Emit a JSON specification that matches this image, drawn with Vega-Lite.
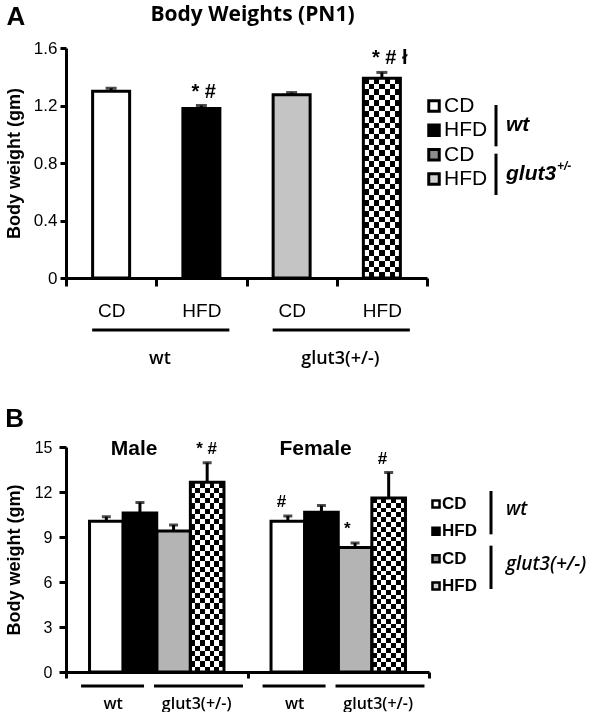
{
"$schema":"https://vega.github.io/schema/vega-lite/v6.json",
"padding":{"left":5,"top":4,"right":0,"bottom":0},
"background":"white",
"datasets":{
 "barsA":[
  {"key":"wt|CD","mean":1.30,"upper":1.32,"sig":""},
  {"key":"wt|HFD","mean":1.18,"upper":1.20,"sig":"* #"},
  {"key":"glut|CD","mean":1.275,"upper":1.29,"sig":""},
  {"key":"glut|HFD","mean":1.39,"upper":1.43,"sig":"* # ł"}
 ],
 "genoA":[
  {"from":"wt|CD","to":"wt|HFD","label":"wt"},
  {"from":"glut|CD","to":"glut|HFD","label":"glut3(+/-)"}
 ],
 "barsB":[
  {"sex":"Male","key":"wt|CD","mean":10.05,"upper":10.35,"sig":""},
  {"sex":"Male","key":"wt|HFD","mean":10.6,"upper":11.3,"sig":""},
  {"sex":"Male","key":"glut|CD","mean":9.4,"upper":9.8,"sig":""},
  {"sex":"Male","key":"glut|HFD","mean":12.65,"upper":13.95,"sig":"* #"},
  {"sex":"Female","key":"wt|CD","mean":10.05,"upper":10.4,"sig":"#"},
  {"sex":"Female","key":"wt|HFD","mean":10.65,"upper":11.1,"sig":""},
  {"sex":"Female","key":"glut|CD","mean":8.3,"upper":8.6,"sig":"*"},
  {"sex":"Female","key":"glut|HFD","mean":11.6,"upper":13.3,"sig":"#"}
 ],
 "sexB":[{"sex":"Male"},{"sex":"Female"}],
 "genoB":[
  {"sex":"Male","geno":"wt","label":"wt"},
  {"sex":"Male","geno":"glut","label":"glut3(+/-)"},
  {"sex":"Female","geno":"wt","label":"wt"},
  {"sex":"Female","geno":"glut","label":"glut3(+/-)"}
 ],
 "legendItems":[
  {"key":"wt|CD","label":"CD"},
  {"key":"wt|HFD","label":"HFD"},
  {"key":"glut|CD","label":"CD"},
  {"key":"glut|HFD","label":"HFD"}
 ],
 "legendGroupsA":[
  {"from":"wt|CD","to":"wt|HFD","name":"wt","sup":""},
  {"from":"glut|CD","to":"glut|HFD","name":"glut3","sup":"+/-"}
 ],
 "legendGroupsB":[
  {"from":"wt|CD","to":"wt|HFD","name":"wt"},
  {"from":"glut|CD","to":"glut|HFD","name":"glut3(+/-)"}
 ]
},
"config":{
 "view":{"stroke":null},
 "axis":{"grid":false,"domainColor":"black","tickColor":"black","labelColor":"black","titleColor":"black","domainWidth":3,"tickWidth":3,"labelFont":"Liberation Sans","titleFont":"Liberation Sans"},
 "title":{"color":"black"}
},
"resolve":{"scale":{"fill":"independent"}},
"spacing":37,
"vconcat":[
 {
  "title":{"text":"A","orient":"left","angle":0,"anchor":"end","align":"left","baseline":"top","frame":"bounds","offset":-20,"font":"Liberation Sans","fontSize":26,"fontWeight":"bold"},
  "bounds":"flush",
  "spacing":0,
  "resolve":{"scale":{"fill":"independent"}},
  "hconcat":[
   {
    "width":361,"height":230,
    "title":{"text":"Body Weights (PN1)","font":"Open Sans","fontSize":21,"fontWeight":"bold","anchor":"middle","offset":14,"dx":6},
    "data":{"name":"barsA"},
    "layer":[
     {"mark":{"type":"bar","width":{"band":0.41},"strokeWidth":0},
      "encoding":{
       "x":{"field":"key","type":"nominal","scale":{"domain":["wt|CD","wt|HFD","glut|CD","glut|HFD"],"paddingInner":0,"paddingOuter":0},
            "axis":{"title":null,"labelExpr":"split(datum.value, '|')[1]","labelAngle":0,"labelFontSize":19,"labelPadding":15,"tickBand":"extent","tickSize":8}},
       "y":{"field":"mean","type":"quantitative","scale":{"domain":[0,1.6],"nice":false},
            "axis":{"title":"Body weight (gm)","values":[0,0.4,0.8,1.2,1.6],"labelExpr":"datum.value == 0 ? '0' : format(datum.value, '.1f')","labelFontSize":17,"labelPadding":3,"tickSize":6,"titleFontSize":18,"titleFontWeight":"bold","titlePadding":10}},
       "fill":{"field":"key","type":"nominal","scale":{"domain":["wt|CD","wt|HFD","glut|CD","glut|HFD"],"range":["white","black","#c4c4c4","white"]},"legend":null}}},
     {"transform":[{"filter":"datum.key == 'glut|HFD'"}],
      "mark":{"type":"bar","width":{"band":0.41},"strokeWidth":0,
       "fill":{"gradient":"linear","x1":0,"y1":0,"x2":0,"y2":1,"stops":[{"offset":0,"color":"black"},{"offset":0.0278,"color":"black"},{"offset":0.0278,"color":"white"},{"offset":0.0556,"color":"white"},{"offset":0.0556,"color":"black"},{"offset":0.0833,"color":"black"},{"offset":0.0833,"color":"white"},{"offset":0.1111,"color":"white"},{"offset":0.1111,"color":"black"},{"offset":0.1389,"color":"black"},{"offset":0.1389,"color":"white"},{"offset":0.1667,"color":"white"},{"offset":0.1667,"color":"black"},{"offset":0.1944,"color":"black"},{"offset":0.1944,"color":"white"},{"offset":0.2222,"color":"white"},{"offset":0.2222,"color":"black"},{"offset":0.25,"color":"black"},{"offset":0.25,"color":"white"},{"offset":0.2778,"color":"white"},{"offset":0.2778,"color":"black"},{"offset":0.3056,"color":"black"},{"offset":0.3056,"color":"white"},{"offset":0.3333,"color":"white"},{"offset":0.3333,"color":"black"},{"offset":0.3611,"color":"black"},{"offset":0.3611,"color":"white"},{"offset":0.3889,"color":"white"},{"offset":0.3889,"color":"black"},{"offset":0.4167,"color":"black"},{"offset":0.4167,"color":"white"},{"offset":0.4444,"color":"white"},{"offset":0.4444,"color":"black"},{"offset":0.4722,"color":"black"},{"offset":0.4722,"color":"white"},{"offset":0.5,"color":"white"},{"offset":0.5,"color":"black"},{"offset":0.5278,"color":"black"},{"offset":0.5278,"color":"white"},{"offset":0.5556,"color":"white"},{"offset":0.5556,"color":"black"},{"offset":0.5833,"color":"black"},{"offset":0.5833,"color":"white"},{"offset":0.6111,"color":"white"},{"offset":0.6111,"color":"black"},{"offset":0.6389,"color":"black"},{"offset":0.6389,"color":"white"},{"offset":0.6667,"color":"white"},{"offset":0.6667,"color":"black"},{"offset":0.6944,"color":"black"},{"offset":0.6944,"color":"white"},{"offset":0.7222,"color":"white"},{"offset":0.7222,"color":"black"},{"offset":0.75,"color":"black"},{"offset":0.75,"color":"white"},{"offset":0.7778,"color":"white"},{"offset":0.7778,"color":"black"},{"offset":0.8056,"color":"black"},{"offset":0.8056,"color":"white"},{"offset":0.8333,"color":"white"},{"offset":0.8333,"color":"black"},{"offset":0.8611,"color":"black"},{"offset":0.8611,"color":"white"},{"offset":0.8889,"color":"white"},{"offset":0.8889,"color":"black"},{"offset":0.9167,"color":"black"},{"offset":0.9167,"color":"white"},{"offset":0.9444,"color":"white"},{"offset":0.9444,"color":"black"},{"offset":0.9722,"color":"black"},{"offset":0.9722,"color":"white"},{"offset":1,"color":"white"}]}},
      "encoding":{"x":{"field":"key","type":"nominal"},"y":{"field":"mean","type":"quantitative"}}},
     {"transform":[{"filter":"datum.key == 'glut|HFD'"}],
      "mark":{"type":"bar","width":{"band":0.41},"strokeWidth":0,"blend":"difference",
       "fill":{"gradient":"linear","x1":0,"y1":0,"x2":1,"y2":0,"stops":[{"offset":0,"color":"black"},{"offset":0.1429,"color":"black"},{"offset":0.1429,"color":"white"},{"offset":0.2857,"color":"white"},{"offset":0.2857,"color":"black"},{"offset":0.4286,"color":"black"},{"offset":0.4286,"color":"white"},{"offset":0.5714,"color":"white"},{"offset":0.5714,"color":"black"},{"offset":0.7143,"color":"black"},{"offset":0.7143,"color":"white"},{"offset":0.8571,"color":"white"},{"offset":0.8571,"color":"black"},{"offset":1,"color":"black"}]}},
      "encoding":{"x":{"field":"key","type":"nominal"},"y":{"field":"mean","type":"quantitative"}}},
     {"mark":{"type":"bar","width":{"band":0.41},"fill":"transparent","stroke":"black","strokeWidth":3},
      "encoding":{"x":{"field":"key","type":"nominal"},"y":{"field":"mean","type":"quantitative"}}},
     {"mark":{"type":"rule","strokeWidth":3,"color":"black"},
      "encoding":{"x":{"field":"key","type":"nominal"},"y":{"field":"mean","type":"quantitative"},"y2":{"field":"upper"}}},
     {"mark":{"type":"tick","thickness":3,"size":11,"color":"black"},
      "encoding":{"x":{"field":"key","type":"nominal"},"y":{"field":"upper","type":"quantitative"}}},
     {"mark":{"type":"text","align":"left","baseline":"bottom","dx":-10,"dy":-4,"font":"Liberation Sans","fontSize":20,"fontWeight":"bold","color":"black"},
      "encoding":{"x":{"field":"key","type":"nominal"},"y":{"field":"upper","type":"quantitative"},"text":{"field":"sig"}}},
     {"data":{"name":"genoA"},
      "mark":{"type":"rule","strokeWidth":3,"color":"black"},
      "encoding":{"x":{"field":"from","type":"nominal","bandPosition":0.29},"x2":{"field":"to","bandPosition":0.81},"y":{"datum":-0.362,"type":"quantitative"}}},
     {"data":{"name":"genoA"},
      "mark":{"type":"text","baseline":"middle","font":"Open Sans","fontSize":18,"fontWeight":600,"color":"black"},
      "encoding":{"x":{"field":"to","type":"nominal","bandPosition":0.04},"y":{"datum":-0.563,"type":"quantitative"},"text":{"field":"label"}}}
    ]
   },
   {
    "width":165,"height":190,
    "layer":[
     {"data":{"name":"legendItems"},
      "mark":{"type":"point","shape":"square","filled":true,"size":110,"stroke":"black","strokeWidth":3,"opacity":1},
      "encoding":{
       "x":{"datum":7,"type":"quantitative","scale":{"domain":[0,165]},"axis":null},
       "y":{"field":"key","type":"nominal","scale":{"type":"point","domain":["wt|CD","wt|HFD","glut|CD","glut|HFD"],"range":[58,131],"padding":0},"axis":null},
       "fill":{"field":"key","type":"nominal","scale":{"domain":["wt|CD","wt|HFD","glut|CD","glut|HFD"],"range":["white","black","#8c8c8c","#d0d0d0"]},"legend":null}}},
     {"data":{"name":"legendItems"},
      "mark":{"type":"text","align":"left","baseline":"middle","font":"Liberation Sans","fontSize":21,"color":"black"},
      "encoding":{
       "x":{"datum":17,"type":"quantitative","scale":{"domain":[0,165]},"axis":null},
       "y":{"field":"key","type":"nominal","axis":null},
       "text":{"field":"label"}}},
     {"data":{"name":"legendGroupsA"},
      "mark":{"type":"rule","strokeWidth":3,"color":"black","yOffset":-1,"y2Offset":16},
      "encoding":{
       "x":{"datum":69,"type":"quantitative","scale":{"domain":[0,165]},"axis":null},
       "y":{"field":"from","type":"nominal","axis":null},
       "y2":{"field":"to"}}},
     {"data":{"name":"legendGroupsA"},
      "mark":{"type":"text","align":"left","baseline":"middle","dy":-5,"font":"Liberation Sans","fontSize":21,"fontWeight":"bold","fontStyle":"italic","color":"black"},
      "encoding":{
       "x":{"datum":79,"type":"quantitative","scale":{"domain":[0,165]},"axis":null},
       "y":{"field":"to","type":"nominal","axis":null},
       "text":{"field":"name"}}},
     {"data":{"name":"legendGroupsA"},
      "mark":{"type":"text","align":"left","baseline":"middle","dy":-13,"font":"Liberation Sans","fontSize":12,"fontWeight":"bold","fontStyle":"italic","color":"black"},
      "encoding":{
       "x":{"datum":130,"type":"quantitative","scale":{"domain":[0,165]},"axis":null},
       "y":{"field":"to","type":"nominal","axis":null},
       "text":{"field":"sup"}}}
    ]
   }
  ]
 },
 {
  "title":{"text":"B","orient":"top","anchor":"start","frame":"bounds","offset":6,"font":"Liberation Sans","fontSize":26,"fontWeight":"bold"},
  "bounds":"flush",
  "spacing":0,
  "resolve":{"scale":{"fill":"independent"}},
  "hconcat":[
   {
    "width":363,"height":225,
    "data":{"name":"barsB"},
    "layer":[
     {"mark":{"type":"bar","strokeWidth":0},
      "encoding":{
       "x":{"field":"sex","type":"nominal","scale":{"domain":["Male","Female"],"paddingInner":0,"paddingOuter":0},
            "axis":{"title":null,"labels":false,"tickBand":"extent","tickSize":6}},
       "xOffset":{"field":"key","type":"nominal","scale":{"domain":["wt|CD","wt|HFD","glut|CD","glut|HFD"],"paddingInner":0,"paddingOuter":0.7}},
       "y":{"field":"mean","type":"quantitative","scale":{"domain":[0,15],"nice":false},
            "axis":{"title":"Body weight (gm)","values":[0,3,6,9,12,15],"labelFontSize":16,"labelPadding":7,"tickSize":7,"titleFontSize":18,"titleFontWeight":"bold","titlePadding":11}},
       "fill":{"field":"key","type":"nominal","scale":{"domain":["wt|CD","wt|HFD","glut|CD","glut|HFD"],"range":["white","black","#b4b4b4","white"]},"legend":null}}},
     {"transform":[{"filter":"datum.key == 'glut|HFD'"}],
      "mark":{"type":"bar","strokeWidth":0,
       "fill":{"gradient":"linear","x1":0,"y1":0,"x2":0,"y2":1,"stops":[{"offset":0,"color":"black"},{"offset":0.0278,"color":"black"},{"offset":0.0278,"color":"white"},{"offset":0.0556,"color":"white"},{"offset":0.0556,"color":"black"},{"offset":0.0833,"color":"black"},{"offset":0.0833,"color":"white"},{"offset":0.1111,"color":"white"},{"offset":0.1111,"color":"black"},{"offset":0.1389,"color":"black"},{"offset":0.1389,"color":"white"},{"offset":0.1667,"color":"white"},{"offset":0.1667,"color":"black"},{"offset":0.1944,"color":"black"},{"offset":0.1944,"color":"white"},{"offset":0.2222,"color":"white"},{"offset":0.2222,"color":"black"},{"offset":0.25,"color":"black"},{"offset":0.25,"color":"white"},{"offset":0.2778,"color":"white"},{"offset":0.2778,"color":"black"},{"offset":0.3056,"color":"black"},{"offset":0.3056,"color":"white"},{"offset":0.3333,"color":"white"},{"offset":0.3333,"color":"black"},{"offset":0.3611,"color":"black"},{"offset":0.3611,"color":"white"},{"offset":0.3889,"color":"white"},{"offset":0.3889,"color":"black"},{"offset":0.4167,"color":"black"},{"offset":0.4167,"color":"white"},{"offset":0.4444,"color":"white"},{"offset":0.4444,"color":"black"},{"offset":0.4722,"color":"black"},{"offset":0.4722,"color":"white"},{"offset":0.5,"color":"white"},{"offset":0.5,"color":"black"},{"offset":0.5278,"color":"black"},{"offset":0.5278,"color":"white"},{"offset":0.5556,"color":"white"},{"offset":0.5556,"color":"black"},{"offset":0.5833,"color":"black"},{"offset":0.5833,"color":"white"},{"offset":0.6111,"color":"white"},{"offset":0.6111,"color":"black"},{"offset":0.6389,"color":"black"},{"offset":0.6389,"color":"white"},{"offset":0.6667,"color":"white"},{"offset":0.6667,"color":"black"},{"offset":0.6944,"color":"black"},{"offset":0.6944,"color":"white"},{"offset":0.7222,"color":"white"},{"offset":0.7222,"color":"black"},{"offset":0.75,"color":"black"},{"offset":0.75,"color":"white"},{"offset":0.7778,"color":"white"},{"offset":0.7778,"color":"black"},{"offset":0.8056,"color":"black"},{"offset":0.8056,"color":"white"},{"offset":0.8333,"color":"white"},{"offset":0.8333,"color":"black"},{"offset":0.8611,"color":"black"},{"offset":0.8611,"color":"white"},{"offset":0.8889,"color":"white"},{"offset":0.8889,"color":"black"},{"offset":0.9167,"color":"black"},{"offset":0.9167,"color":"white"},{"offset":0.9444,"color":"white"},{"offset":0.9444,"color":"black"},{"offset":0.9722,"color":"black"},{"offset":0.9722,"color":"white"},{"offset":1,"color":"white"}]}},
      "encoding":{"x":{"field":"sex","type":"nominal"},"xOffset":{"field":"key","type":"nominal"},"y":{"field":"mean","type":"quantitative"}}},
     {"transform":[{"filter":"datum.key == 'glut|HFD'"}],
      "mark":{"type":"bar","strokeWidth":0,"blend":"difference",
       "fill":{"gradient":"linear","x1":0,"y1":0,"x2":1,"y2":0,"stops":[{"offset":0,"color":"black"},{"offset":0.1429,"color":"black"},{"offset":0.1429,"color":"white"},{"offset":0.2857,"color":"white"},{"offset":0.2857,"color":"black"},{"offset":0.4286,"color":"black"},{"offset":0.4286,"color":"white"},{"offset":0.5714,"color":"white"},{"offset":0.5714,"color":"black"},{"offset":0.7143,"color":"black"},{"offset":0.7143,"color":"white"},{"offset":0.8571,"color":"white"},{"offset":0.8571,"color":"black"},{"offset":1,"color":"black"}]}},
      "encoding":{"x":{"field":"sex","type":"nominal"},"xOffset":{"field":"key","type":"nominal"},"y":{"field":"mean","type":"quantitative"}}},
     {"mark":{"type":"bar","fill":"transparent","stroke":"black","strokeWidth":3},
      "encoding":{"x":{"field":"sex","type":"nominal"},"xOffset":{"field":"key","type":"nominal"},"y":{"field":"mean","type":"quantitative"}}},
     {"mark":{"type":"rule","strokeWidth":3,"color":"black"},
      "encoding":{"x":{"field":"sex","type":"nominal"},"xOffset":{"field":"key","type":"nominal"},"y":{"field":"mean","type":"quantitative"},"y2":{"field":"upper"}}},
     {"mark":{"type":"tick","thickness":3,"size":9,"color":"black"},
      "encoding":{"x":{"field":"sex","type":"nominal"},"xOffset":{"field":"key","type":"nominal"},"y":{"field":"upper","type":"quantitative"}}},
     {"mark":{"type":"text","align":"left","baseline":"bottom","dx":-11,"dy":-5,"font":"Liberation Sans","fontSize":17,"fontWeight":"bold","color":"black"},
      "encoding":{"x":{"field":"sex","type":"nominal"},"xOffset":{"field":"key","type":"nominal"},"y":{"field":"upper","type":"quantitative"},"text":{"field":"sig"}}},
     {"data":{"name":"sexB"},
      "mark":{"type":"text","baseline":"middle","font":"Liberation Sans","fontSize":21,"fontWeight":"bold","color":"black"},
      "encoding":{"x":{"field":"sex","type":"nominal","bandPosition":0.375},"y":{"datum":14.87,"type":"quantitative"},"text":{"field":"sex"}}},
     {"data":{"name":"genoB"},"transform":[{"filter":"datum.geno == 'wt'"}],
      "mark":{"type":"rule","strokeWidth":3,"color":"black"},
      "encoding":{"x":{"field":"sex","type":"nominal","bandPosition":0.083},"x2":{"field":"sex","bandPosition":0.43},"y":{"datum":-0.93,"type":"quantitative"}}},
     {"data":{"name":"genoB"},"transform":[{"filter":"datum.geno == 'glut'"}],
      "mark":{"type":"rule","strokeWidth":3,"color":"black"},
      "encoding":{"x":{"field":"sex","type":"nominal","bandPosition":0.485},"x2":{"field":"sex","bandPosition":0.975},"y":{"datum":-0.93,"type":"quantitative"}}},
     {"data":{"name":"genoB"},"transform":[{"filter":"datum.geno == 'wt'"}],
      "mark":{"type":"text","baseline":"middle","font":"Open Sans","fontSize":16,"fontWeight":600,"color":"black"},
      "encoding":{"x":{"field":"sex","type":"nominal","bandPosition":0.26},"y":{"datum":-2.1,"type":"quantitative"},"text":{"field":"label"}}},
     {"data":{"name":"genoB"},"transform":[{"filter":"datum.geno == 'glut'"}],
      "mark":{"type":"text","baseline":"middle","font":"Open Sans","fontSize":16,"fontWeight":600,"color":"black"},
      "encoding":{"x":{"field":"sex","type":"nominal","bandPosition":0.72},"y":{"datum":-2.1,"type":"quantitative"},"text":{"field":"label"}}}
    ]
   },
   {
    "width":165,"height":196,
    "layer":[
     {"data":{"name":"legendItems"},
      "mark":{"type":"point","shape":"square","filled":true,"size":50,"stroke":"black","strokeWidth":2.5,"opacity":1},
      "encoding":{
       "x":{"datum":7,"type":"quantitative","scale":{"domain":[0,165]},"axis":null},
       "y":{"field":"key","type":"nominal","scale":{"type":"point","domain":["wt|CD","wt|HFD","glut|CD","glut|HFD"],"range":[57,139],"padding":0},"axis":null},
       "fill":{"field":"key","type":"nominal","scale":{"domain":["wt|CD","wt|HFD","glut|CD","glut|HFD"],"range":["white","black","#8c8c8c","#d0d0d0"]},"legend":null}}},
     {"data":{"name":"legendItems"},
      "mark":{"type":"text","align":"left","baseline":"middle","font":"Liberation Sans","fontSize":17,"fontWeight":"bold","color":"black"},
      "encoding":{
       "x":{"datum":13,"type":"quantitative","scale":{"domain":[0,165]},"axis":null},
       "y":{"field":"key","type":"nominal","axis":null},
       "text":{"field":"label"}}},
     {"data":{"name":"legendGroupsB"},
      "mark":{"type":"rule","strokeWidth":3,"color":"black","yOffset":-13,"y2Offset":3},
      "encoding":{
       "x":{"datum":62,"type":"quantitative","scale":{"domain":[0,165]},"axis":null},
       "y":{"field":"from","type":"nominal","axis":null},
       "y2":{"field":"to"}}},
     {"data":{"name":"legendGroupsB"},
      "mark":{"type":"text","align":"left","baseline":"middle","dy":5,"font":"Open Sans","fontSize":19,"fontWeight":600,"fontStyle":"italic","color":"black"},
      "encoding":{
       "x":{"datum":77,"type":"quantitative","scale":{"domain":[0,165]},"axis":null},
       "y":{"field":"from","type":"nominal","axis":null},
       "text":{"field":"name"}}}
    ]
   }
  ]
 }
]
}
